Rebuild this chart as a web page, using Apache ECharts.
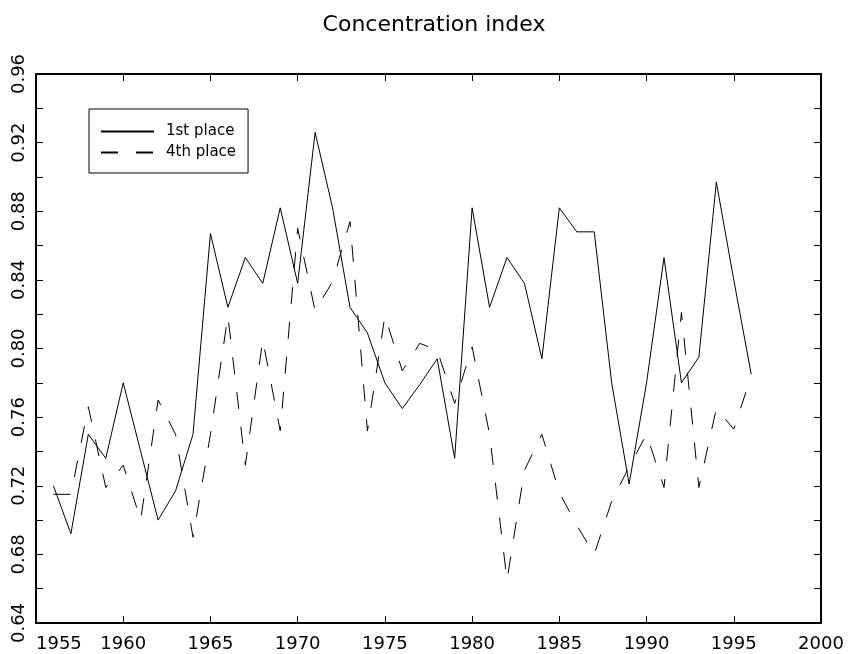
<!DOCTYPE html>
<html>
<head>
<meta charset="utf-8">
<script src="https://cdn.jsdelivr.net/npm/echarts@6/dist/echarts.min.js"></script>
<style>
html, body { margin: 0; padding: 0; background: #fff; }
#chart { width: 849px; height: 654px; }
</style>
</head>
<body>
<div id="chart"></div>
<script>
var years = [1956, 1957, 1958, 1959, 1960, 1961, 1962, 1963, 1964, 1965,
  1966, 1967, 1968, 1969, 1970, 1971, 1972, 1973, 1974, 1975,
  1976, 1977, 1978, 1979, 1980, 1981, 1982, 1983, 1984, 1985,
  1986, 1987, 1988, 1989, 1990, 1991, 1992, 1993, 1994, 1995, 1996];

var firstPlace = [0.720, 0.692, 0.750, 0.736, 0.780, 0.740, 0.700, 0.717, 0.750, 0.867,
  0.824, 0.853, 0.838, 0.882, 0.838, 0.926, 0.882, 0.824, 0.809, 0.780,
  0.765, 0.779, 0.794, 0.736, 0.882, 0.824, 0.853, 0.838, 0.794, 0.882,
  0.868, 0.868, 0.780, 0.721, 0.780, 0.853, 0.780, 0.795, 0.897, 0.840, 0.785];

var fourthPlace = [0.715, 0.715, 0.766, 0.719, 0.732, 0.700, 0.770, 0.750, 0.690, 0.750,
  0.819, 0.732, 0.805, 0.752, 0.870, 0.822, 0.839, 0.874, 0.752, 0.819,
  0.787, 0.803, 0.799, 0.768, 0.801, 0.750, 0.665, 0.729, 0.750, 0.716,
  0.697, 0.680, 0.711, 0.731, 0.750, 0.719, 0.821, 0.719, 0.765, 0.753, 0.784];

var seriesNames = ['1st place', '4th place'];

var chartDom = document.getElementById('chart');
var myChart = echarts.init(chartDom, null, { renderer: 'canvas' });
var font = 'DejaVu Sans';

function pairs(vals) {
  return years.map(function (y, i) { return [y, vals[i]]; });
}

var frameLine = { show: true, onZero: false, lineStyle: { color: '#000', width: 2 } };
var tick = { show: true, inside: true, length: 7, lineStyle: { color: '#000', width: 1 } };

var option = {
  animation: false,
  backgroundColor: '#fff',
  title: {
    text: 'Concentration index',
    left: 429,
    top: 9,
    textAlign: 'center',
    textStyle: { fontFamily: font, fontSize: 22, fontWeight: 'normal', color: '#000' }
  },
  legend: {
    orient: 'vertical',
    left: 89,
    top: 109,
    itemWidth: 53,
    itemHeight: 14,
    itemGap: 6,
    padding: [15, 12, 13, 11],
    borderColor: '#000',
    borderWidth: 1,
    selectedMode: false,
    itemStyle: { opacity: 0 },
    textStyle: { fontFamily: font, fontSize: 15, color: '#000', padding: [0, 0, 0, 7] },
    data: seriesNames
  },
  grid: { left: 36, right: 28, top: 74, bottom: 31, outerBoundsMode: 'none' },
  xAxis: [
    {
      type: 'value', min: 1955, max: 2000, interval: 5, position: 'bottom',
      axisLine: frameLine, axisTick: tick, splitLine: { show: false },
      axisLabel: {
        fontFamily: font, fontSize: 18, color: '#000', margin: 12,
        showMinLabel: true, showMaxLabel: true, alignMinLabel: 'left',
        formatter: function (v) { return String(v); }
      }
    },
    {
      type: 'value', min: 1955, max: 2000, interval: 5, position: 'top',
      axisLine: frameLine, axisTick: tick, splitLine: { show: false },
      axisLabel: { show: false }
    }
  ],
  yAxis: [
    {
      type: 'value', min: 0.64, max: 0.96, interval: 0.02, position: 'left',
      axisLine: frameLine, axisTick: tick, splitLine: { show: false },
      axisLabel: {
        fontFamily: font, fontSize: 18, color: '#000', margin: 8, rotate: 90,
        showMinLabel: true, showMaxLabel: true,
        formatter: function (v) {
          var k = Math.round(v * 100);
          return k % 4 === 0 ? (k / 100).toFixed(2) : '';
        }
      }
    },
    {
      type: 'value', min: 0.64, max: 0.96, interval: 0.02, position: 'right',
      axisLine: frameLine, axisTick: tick, splitLine: { show: false },
      axisLabel: { show: false }
    }
  ],
  series: [
    {
      name: seriesNames[0],
      type: 'line',
      data: pairs(firstPlace),
      symbol: 'none',
      itemStyle: { color: '#000' },
      lineStyle: { color: '#000', width: 1 }
    },
    {
      name: seriesNames[1],
      type: 'line',
      data: pairs(fourthPlace),
      symbol: 'none',
      itemStyle: { color: '#000' },
      lineStyle: { color: '#000', width: 1, type: [17, 18] }
    }
  ]
};

option && myChart.setOption(option);
</script>
</body>
</html>
